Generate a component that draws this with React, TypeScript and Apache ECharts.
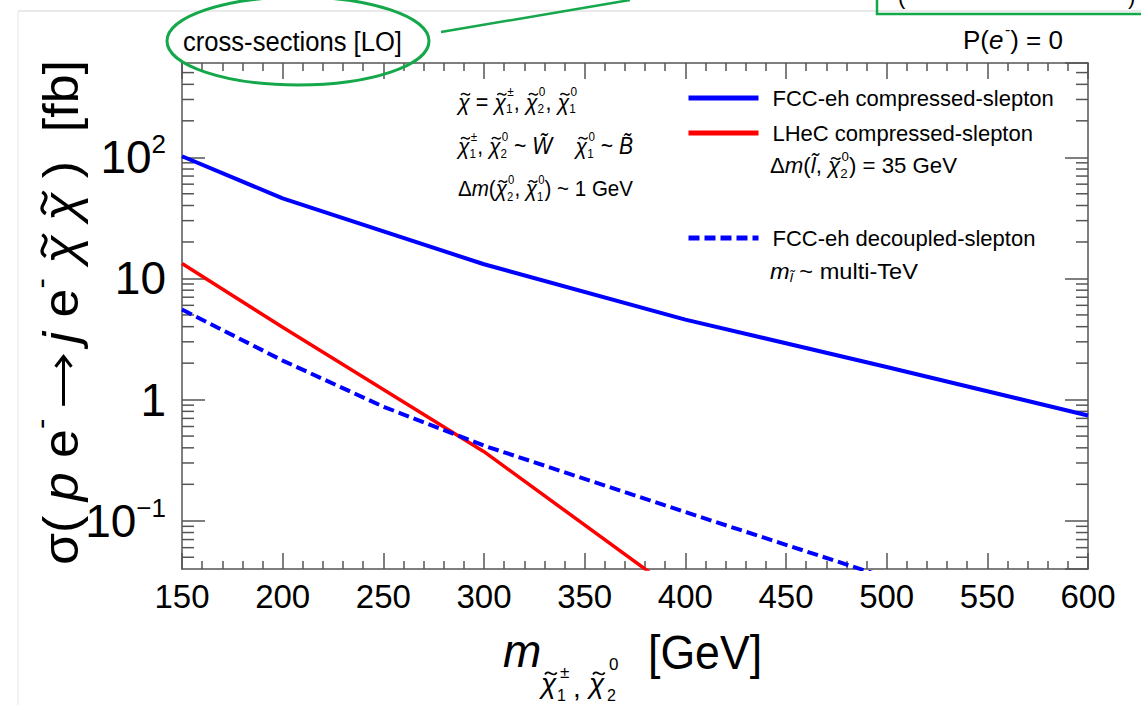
import React, { useEffect, useRef } from 'react';
import * as echarts from 'echarts';

const FONT = '"Liberation Sans", Arial, Helvetica, sans-serif';

// ---- data ----
const seriesNames = ['FCC-eh compressed-slepton', 'LHeC compressed-slepton', 'FCC-eh decoupled-slepton'];
const fccMass = [150, 200, 300, 400, 500, 600];
const fccCompressed = [102, 45.8, 13.1, 4.57, 1.86, 0.74];
const lhecMass = [150, 200, 300, 400];
const lhecCompressed = [13.3, 3.95, 0.372, 0.0229];
const decMass = [150, 200, 250, 300, 400, 500];
const fccDecoupled = [5.55, 2.1, 0.875, 0.417, 0.118, 0.034];

const xMin = 150, xMax = 600, xStep = 50;
const yMin = 0.04, yMax = 600;
const yMinorTicks = [0.05, 0.06, 0.07, 0.08, 0.09, 0.2, 0.3, 0.4, 0.5, 0.6, 0.7, 0.8, 0.9,
  2, 3, 4, 5, 6, 7, 8, 9, 20, 30, 40, 50, 60, 70, 80, 90, 200, 300, 400, 500];

const CHI = '\u03C7';
const AXIS_COLOR = '#555';
const GREEN = '#14a84a';

let _ctx: CanvasRenderingContext2D | null = null;
function measure(t: string, fs: number, it: boolean) {
  if (!_ctx) _ctx = document.createElement('canvas').getContext('2d');
  if (!_ctx) return t.length * fs * 0.5;
  _ctx.font = `${it ? 'italic ' : ''}${fs}px ${FONT}`;
  return _ctx.measureText(t).width;
}

function txt(t: string, x: number, y: number, fs: number, it = false, extra: any = {}) {
  return {
    type: 'text', x, y, z: 100, ...extra,
    style: { text: t, fontSize: fs, fontFamily: FONT, fontStyle: it ? 'italic' : 'normal', fill: '#000', align: 'left', verticalAlign: 'middle' },
  };
}

// chi with a tilde stroke drawn above it
function chiT(x: number, y: number, fs: number) {
  const w = measure(CHI, fs, true);
  const tw = fs * 0.42;
  const cx = x + w / 2 + fs * 0.08;
  const ty = y - fs * 0.34;
  const h = fs * 0.09;
  return [
    txt(CHI, x, y, fs, true),
    {
      type: 'bezierCurve', z: 100,
      shape: { x1: cx - tw / 2, y1: ty + h * 0.4, cpx1: cx - tw / 6, cpy1: ty - h * 2.2, cpx2: cx + tw / 6, cpy2: ty + h * 2.2, x2: cx + tw / 2, y2: ty - h * 0.4 },
      style: { stroke: '#000', fill: 'none', lineWidth: Math.max(1, fs * 0.065) },
    },
  ];
}

type Tok = { t: string; it?: boolean; sup?: string; sub?: string; subIt?: boolean; tilde?: boolean; arrow?: number };
function run(tokens: Tok[], x0: number, y0: number, fs: number, targetW?: number, rotation = 0, ss = 0.6) {
  const ch: any[] = [];
  let x = 0;
  for (const k of tokens) {
    if (k.arrow) {
      // long right arrow drawn as strokes
      const L = k.arrow * fs;
      const pad = fs * 0.25;
      const ay = fs * 0.05;
      const lw = Math.max(1.5, fs * 0.06);
      ch.push({ type: 'line', z: 100, shape: { x1: x + pad, y1: ay, x2: x + L - pad, y2: ay }, style: { stroke: '#000', lineWidth: lw } });
      ch.push({ type: 'polyline', z: 100, shape: { points: [[x + L - pad - fs * 0.2, ay - fs * 0.16], [x + L - pad, ay], [x + L - pad - fs * 0.2, ay + fs * 0.16]] }, style: { stroke: '#000', fill: 'none', lineWidth: lw } });
      x += L;
      continue;
    }
    if (k.tilde) ch.push(...chiT(x, 0, fs));
    else ch.push(txt(k.t, x, 0, fs, !!k.it));
    x += measure(k.t, fs, !!k.it);
    const s = fs * ss;
    let w = 0;
    if (k.sup) {
      const off = k.it ? fs * 0.06 : 0;
      ch.push(txt(k.sup, x + off, -0.42 * fs, s));
      w = Math.max(w, measure(k.sup, s, false) + off);
    }
    if (k.sub) {
      ch.push(txt(k.sub, x, 0.32 * fs, s, !!k.subIt));
      w = Math.max(w, measure(k.sub, s, !!k.subIt));
    }
    x += w;
  }
  const sx = targetW ? targetW / x : 1;
  return { type: 'group', x: x0, y: y0, scaleX: sx, rotation, children: ch, z: 100 };
}

const chi = (sup?: string, sub?: string): Tok => ({ t: CHI, it: true, tilde: true, sup, sub });

export default function App() {
  const ref = useRef<HTMLDivElement>(null);
  useEffect(() => {
    if (!ref.current) return;
    const chart = echarts.init(ref.current, undefined, { renderer: 'svg' });

    const pairs = (xs: number[], ys: number[]) => xs.map((x, i) => [x, ys[i]]);

    const xAxisBase = {
      type: 'value', min: xMin, max: xMax, interval: xStep,
      axisLine: { show: true, onZero: false, lineStyle: { color: AXIS_COLOR, width: 1.5 } },
      axisTick: { show: true, inside: true, length: 16, lineStyle: { color: AXIS_COLOR, width: 1.5 } },
      minorTick: { show: true, splitNumber: 5, length: 8, lineStyle: { color: AXIS_COLOR, width: 1.5 } },
      splitLine: { show: false },
    };
    const yAxisBase = {
      type: 'log', logBase: 10, min: yMin, max: yMax,
      axisLine: { show: true, onZero: false, lineStyle: { color: AXIS_COLOR, width: 1.5 } },
      axisTick: { show: true, inside: true, length: 23, lineStyle: { color: AXIS_COLOR, width: 1.5 } },
      splitLine: { show: false },
    };

    const yTitle = run([
      { t: '\u03C3( ' }, { t: 'p', it: true }, { t: ' e', sup: '-' }, { t: '', arrow: 1.45 }, { t: 'j', it: true },
      { t: ' e', sup: '-' }, { t: ' ' }, chi(), { t: ' ' }, chi(), { t: ' )  [fb]' },
    ], 61, 565, 50, 505, Math.PI / 2);

    const graphics: any[] = [
      // slide frame remnants
      { type: 'line', z: 100, shape: { x1: 18, y1: 11, x2: 1141, y2: 11 }, style: { stroke: '#d4d4d4', lineWidth: 1 } },
      { type: 'line', z: 100, shape: { x1: 18, y1: 11, x2: 18, y2: 705 }, style: { stroke: '#e4e4e4', lineWidth: 1 } },
      { type: 'rect', z: 100, shape: { x: 877, y: -10, width: 300, height: 24 }, style: { fill: 'none', stroke: GREEN, lineWidth: 2.5 } },
      txt('(', 898, -4, 22),
      txt(')', 1128, -4, 22),
      { type: 'ellipse', z: 101, shape: { cx: 298, cy: 41, rx: 131, ry: 44 }, style: { fill: 'none', stroke: GREEN, lineWidth: 3 } },
      { type: 'line', z: 101, shape: { x1: 441, y1: 32, x2: 630, y2: 0 }, style: { stroke: GREEN, lineWidth: 2.5 } },
      run([{ t: 'cross-sections [LO]' }], 183, 42, 28, 219),
      run([{ t: 'P(' }, { t: 'e', it: true, sup: '-' }, { t: ') = 0' }], 963, 40, 26, 100),
      // model annotation
      run([chi(), { t: ' = ' }, chi('\u00B1', '1'), { t: ', ' }, chi('0', '2'), { t: ', ' }, chi('0', '1')], 458, 102, 23, 119, 0, 0.55),
      run([chi('\u00B1', '1'), { t: ', ' }, chi('0', '2'), { t: ' ~ ' }, { t: 'W\u0303', it: true }, { t: '    ' },
        chi('0', '1'), { t: ' ~ ' }, { t: 'B\u0303', it: true }], 458, 146, 23, 175, 0, 0.55),
      run([{ t: '\u0394' }, { t: 'm', it: true }, { t: '(' }, chi('0', '2'), { t: ', ' }, chi('0', '1'), { t: ') ~ 1 GeV' }],
        458, 189, 22, 175, 0, 0.55),
      // legend extra lines
      run([{ t: '\u0394' }, { t: 'm', it: true }, { t: '(' }, { t: 'l\u0303', it: true }, { t: ', ' }, chi('0', '2'),
        { t: ') = 35 GeV' }], 770, 166, 22, 187),
      run([{ t: 'm', it: true, sub: 'l\u0303', subIt: true }, { t: ' ~ multi-TeV' }], 770, 271, 22, 148),
      // axis titles
      yTitle,
      txt('m', 503, 651, 46, true),
      ...chiT(541, 683, 28),
      txt('\u00B1', 560, 672, 17),
      txt('1', 557, 695, 16),
      txt(',', 573, 687, 28),
      ...chiT(589, 683, 28),
      txt('0', 609, 664, 17),
      txt('2', 607, 695, 16),
      txt('[GeV]', 648, 652, 48, false, { scaleX: 0.93 }),
    ];

    const legendTops = [87, 122, 227];

    chart.setOption({
      animation: false,
      backgroundColor: '#fff',
      grid: { left: 182, top: 63, right: 53, bottom: 136, containLabel: false, outerBoundsMode: 'none' },
      xAxis: [
        {
          ...xAxisBase, position: 'bottom',
          axisLabel: { show: true, margin: 11, fontSize: 33, fontFamily: FONT, color: '#000' },
        },
        { ...xAxisBase, position: 'top', axisLabel: { show: false } },
      ],
      yAxis: [
        {
          ...yAxisBase, position: 'left',
          axisLabel: {
            show: true, margin: 16, showMinLabel: false, showMaxLabel: false,
            formatter: (v: number) => {
              const l = Math.log10(v);
              const e = Math.round(l);
              if (Math.abs(l - e) > 1e-6) return '';
              if (e === 0) return '{b|1}';
              if (e === 1) return '{b|10}';
              return '{b|10}{s|' + (e < 0 ? '\u2212' + -e : String(e)) + '}';
            },
            rich: {
              b: { fontSize: 46, fontFamily: FONT, color: '#000', lineHeight: 52 },
              s: { fontSize: 26, fontFamily: FONT, color: '#000', lineHeight: 28, verticalAlign: 'top' },
            },
          },
        },
        { ...yAxisBase, position: 'right', axisLabel: { show: false } },
      ],
      legend: seriesNames.map((n, i) => ({
        data: [n], left: 686, top: legendTops[i], orient: 'horizontal', padding: 0,
        itemWidth: 70, itemHeight: 14, selectedMode: false,
        itemStyle: { opacity: 0 },
        lineStyle: { width: 5 },
        textStyle: { fontSize: 22, fontFamily: FONT, color: '#000', padding: [0, 0, 0, 9] },
      })),
      series: [
        {
          name: seriesNames[0], type: 'line', data: pairs(fccMass, fccCompressed), showSymbol: false, symbol: 'none',
          lineStyle: { color: '#0000ff', width: 4 }, itemStyle: { color: '#0000ff' }, clip: true, z: 5,
        },
        {
          name: seriesNames[1], type: 'line', data: pairs(lhecMass, lhecCompressed), showSymbol: false, symbol: 'none',
          lineStyle: { color: '#ff0000', width: 3.5 }, itemStyle: { color: '#ff0000' }, clip: true, z: 4,
        },
        {
          name: seriesNames[2], type: 'line', data: pairs(decMass, fccDecoupled), showSymbol: false, symbol: 'none',
          lineStyle: { color: '#0000ff', width: 4, type: [11, 5] }, itemStyle: { color: '#0000ff' }, clip: true, z: 5,
        },
        {
          name: 'minor-ticks', type: 'custom', silent: true, clip: false, z: 3,
          data: yMinorTicks.map((v) => [xMin, v]),
          renderItem: (params: any, api: any) => {
            const v = api.value(1);
            const pl = api.coord([xMin, v]);
            const pr = api.coord([xMax, v]);
            const st = { stroke: AXIS_COLOR, lineWidth: 1.5 };
            return {
              type: 'group',
              children: [
                { type: 'line', shape: { x1: pl[0], y1: pl[1], x2: pl[0] + 12, y2: pl[1] }, style: st },
                { type: 'line', shape: { x1: pr[0] - 12, y1: pr[1], x2: pr[0], y2: pr[1] }, style: st },
              ],
            };
          },
        },
      ],
      graphic: { elements: graphics },
    });

    return () => chart.dispose();
  }, []);

  return <div ref={ref} style={{ position: 'fixed', left: 0, top: 0, width: 1141, height: 705, background: '#fff' }} />;
}
